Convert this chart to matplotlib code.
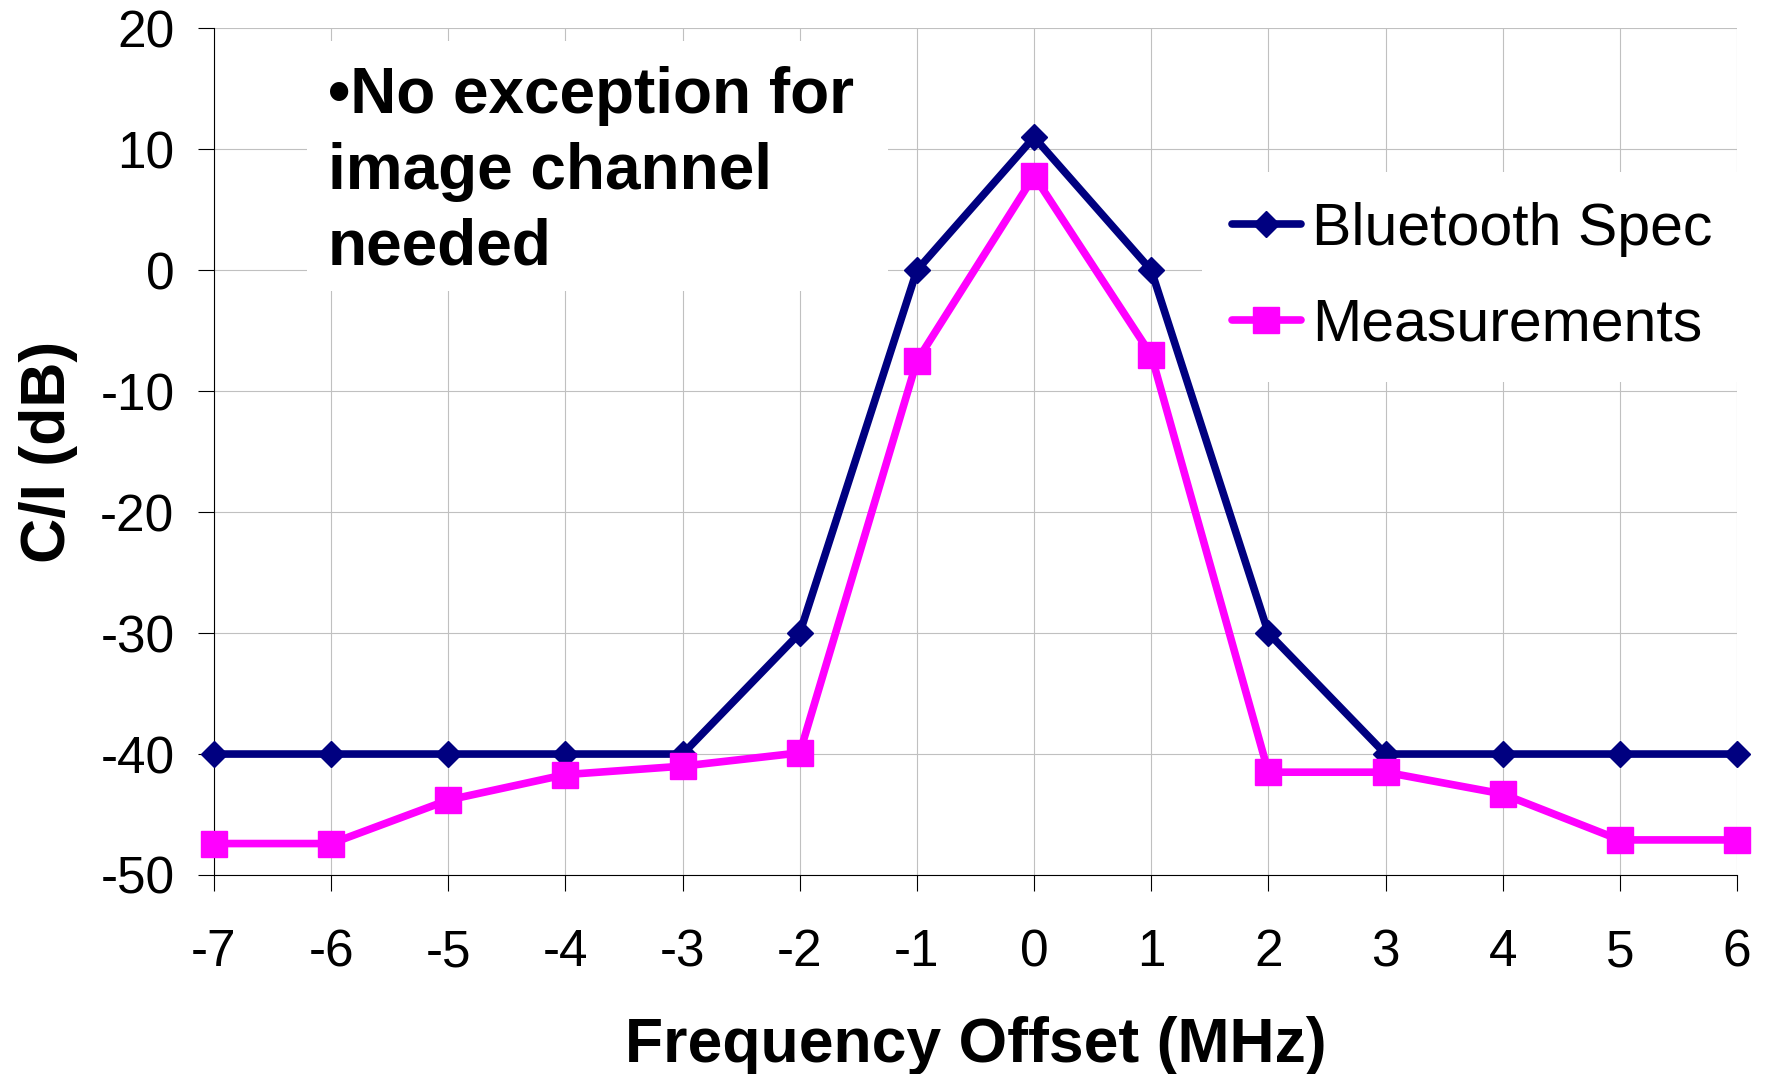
import matplotlib
matplotlib.use("Agg")
import matplotlib.pyplot as plt
from matplotlib.patches import Rectangle

freq_offset = [-7, -6, -5, -4, -3, -2, -1, 0, 1, 2, 3, 4, 5, 6]
bluetooth_spec = [-40, -40, -40, -40, -40, -30, 0, 11, 0, -30, -40, -40, -40, -40]
measurements = [-47.4, -47.4, -43.8, -41.7, -41.0, -39.9, -7.5, 7.8, -7.0, -41.5, -41.5, -43.3, -47.1, -47.1]
y_ticks = [20, 10, 0, -10, -20, -30, -40, -50]
note_lines = ["\u2022No exception for", "image channel", "needed"]

plt.rcParams['font.family'] = ['Liberation Sans', 'DejaVu Sans']

W, H = 1766, 1074
fig = plt.figure(figsize=(W / 100, H / 100), dpi=100)
L, R, T, B = 214, 1737, 28.3, 875
ax = fig.add_axes([L / W, 1 - B / H, (R - L) / W, (B - T) / H])

ax.plot(freq_offset, bluetooth_spec, color='#000080', lw=5.5, marker='D', ms=13.5,
        mec='#000080', mew=1, label='Bluetooth Spec', clip_on=False, zorder=3,
        solid_capstyle='round')
ax.plot(freq_offset, measurements, color='#FF00FF', lw=5.5, marker='s', ms=18.5,
        mec='#FF00FF', mew=1, label='Measurements', clip_on=False, zorder=4,
        solid_capstyle='round')

ax.set_xlim(-7, 6)
ax.set_ylim(-50, 20)
ax.set_xticks(freq_offset)
ax.set_xticklabels([str(v) for v in freq_offset])
ax.set_yticks(y_ticks)
ax.set_yticklabels([str(v) for v in y_ticks])
ax.tick_params(axis='both', direction='out', length=11.5, width=0.8, labelsize=37,
               color='black')
ax.tick_params(axis='x', pad=27)
ax.tick_params(axis='y', pad=17)

ax.grid(True, color='#C0C0C0', lw=0.8)
ax.set_axisbelow(True)
for s in ['top', 'right']:
    ax.spines[s].set_visible(False)
for s in ['left', 'bottom']:
    ax.spines[s].set_linewidth(0.8)
    ax.spines[s].set_zorder(2.5)

ax.set_xlabel('Frequency Offset (MHz)', fontsize=45, fontweight='bold')
ax.set_ylabel('C/I (dB)', fontsize=45, fontweight='bold')
ax.xaxis.set_label_coords(0.5, (B - 1016) / (B - T))
ax.yaxis.set_label_coords((78 - L) / (R - L), 0.5)

# white note box
x0 = (307 - L) / (R - L); x1 = (888 - L) / (R - L)
y0 = (B - 291) / (B - T); y1 = (B - 41) / (B - T)
ax.add_patch(Rectangle((x0, y0), x1 - x0, y1 - y0, transform=ax.transAxes,
                       facecolor='white', edgecolor='none', zorder=1))
ax.text((328 - L) / (R - L), (B - 66.5) / (B - T), "\n".join(note_lines),
        transform=ax.transAxes, fontsize=46, fontweight='bold', va='top', ha='left',
        linespacing=1.33, zorder=5)

leg = ax.legend(loc='upper left', bbox_to_anchor=((1202 - L) / (R - L), (B - 172) / (B - T)),
                borderaxespad=0, fontsize=42.5, frameon=True, fancybox=False,
                handlelength=1.17, handletextpad=0.2, borderpad=0.5, labelspacing=0.7)
leg.get_frame().set_facecolor('white')
leg.get_frame().set_edgecolor('none')
leg.get_frame().set_alpha(1)

fig.savefig('out.png', dpi=100)
